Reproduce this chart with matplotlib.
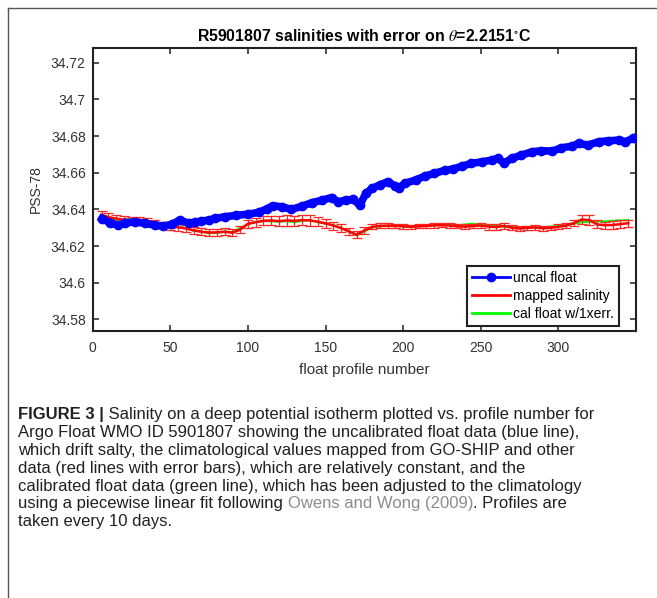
import numpy as np
import matplotlib
matplotlib.use('Agg')
import matplotlib.pyplot as plt
from matplotlib.lines import Line2D

plt.rcParams['font.family'] = ['Liberation Sans', 'DejaVu Sans']
plt.rcParams['mathtext.fontset'] = 'stix'

# uncalibrated float salinity (blue)
uncal_prof = [6, 11, 16, 21, 27, 34, 40, 45, 51, 56, 62, 66, 70, 75, 79, 85, 92, 100,
              107, 112, 116, 122, 128, 135, 141, 148, 154, 158, 163, 168, 172, 176,
              180, 185, 190, 195, 197, 201, 208, 214, 220, 227, 232, 238, 244, 251,
              257, 261, 265, 270, 276, 283, 289, 296, 302, 309, 313, 319, 326, 332,
              339, 343, 348]
uncal_sal = [34.6350, 34.6328, 34.6314, 34.6327, 34.6332, 34.6324, 34.6314, 34.6309,
             34.6318, 34.6342, 34.6324, 34.6330, 34.6336, 34.6342, 34.6351, 34.6360,
             34.6367, 34.6374, 34.6384, 34.6402, 34.6420, 34.6414, 34.6400, 34.6418,
             34.6436, 34.6451, 34.6465, 34.6441, 34.6451, 34.6455, 34.6423, 34.6487,
             34.6515, 34.6533, 34.6551, 34.6527, 34.6515, 34.6542, 34.6560, 34.6582,
             34.6596, 34.6614, 34.6620, 34.6636, 34.6651, 34.6660, 34.6669, 34.6678,
             34.6654, 34.6678, 34.6696, 34.6714, 34.6720, 34.6718, 34.6736, 34.6745,
             34.6760, 34.6751, 34.6769, 34.6774, 34.6778, 34.6769, 34.6787]

# mapped salinity (red) with error, and calibrated float (green)
prof = [6, 10, 15, 20, 25, 30, 35, 40, 45, 50, 55, 60, 65, 70, 75, 80, 85, 90, 95,
        100, 105, 110, 115, 120, 125, 130, 135, 140, 145, 150, 155, 160, 165, 170,
        175, 180, 185, 190, 195, 200, 205, 210, 215, 220, 225, 230, 235, 240, 245,
        250, 255, 260, 265, 270, 275, 280, 285, 290, 295, 300, 305, 310, 315, 320,
        325, 330, 335, 340, 345]
mapped_sal = [34.6370, 34.6358, 34.6350, 34.6344, 34.6342, 34.6342, 34.6338, 34.6328,
              34.6314, 34.6306, 34.6303, 34.6296, 34.6286, 34.6278, 34.6274, 34.6275,
              34.6278, 34.6273, 34.6290, 34.6322, 34.6330, 34.6338, 34.6340, 34.6336,
              34.6340, 34.6338, 34.6342, 34.6340, 34.6333, 34.6324, 34.6312, 34.6298,
              34.6280, 34.6262, 34.6285, 34.6305, 34.6310, 34.6312, 34.6310, 34.6308,
              34.6305, 34.6308, 34.6310, 34.6313, 34.6314, 34.6312, 34.6308, 34.6306,
              34.6310, 34.6312, 34.6306, 34.6304, 34.6310, 34.6300, 34.6296, 34.6300,
              34.6302, 34.6297, 34.6300, 34.6305, 34.6312, 34.6325, 34.6345, 34.6342,
              34.6318, 34.6314, 34.6315, 34.6320, 34.6325]
mapped_err = [0.0020, 0.0020, 0.0018, 0.0018, 0.0016, 0.0016, 0.0016, 0.0016, 0.0016,
              0.0016, 0.0018, 0.0018, 0.0018, 0.0018, 0.0018, 0.0018, 0.0020, 0.0020,
              0.0020, 0.0022, 0.0024, 0.0025, 0.0026, 0.0026, 0.0028, 0.0026, 0.0028,
              0.0028, 0.0026, 0.0024, 0.0022, 0.0020, 0.0020, 0.0020, 0.0018, 0.0014,
              0.0014, 0.0013, 0.0013, 0.0013, 0.0012, 0.0012, 0.0012, 0.0012, 0.0012,
              0.0012, 0.0012, 0.0012, 0.0013, 0.0014, 0.0016, 0.0018, 0.0016, 0.0013,
              0.0012, 0.0012, 0.0012, 0.0012, 0.0012, 0.0013, 0.0014, 0.0018, 0.0024,
              0.0026, 0.0022, 0.0020, 0.0020, 0.0020, 0.0020]
cal_sal = [34.6372, 34.6355, 34.6345, 34.6346, 34.6344, 34.6340, 34.6335, 34.6326,
           34.6316, 34.6308, 34.6306, 34.6298, 34.6284, 34.6280, 34.6270, 34.6272,
           34.6280, 34.6276, 34.6300, 34.6318, 34.6332, 34.6336, 34.6335, 34.6333,
           34.6336, 34.6330, 34.6338, 34.6342, 34.6330, 34.6322, 34.6315, 34.6300,
           34.6283, 34.6258, 34.6280, 34.6302, 34.6308, 34.6310, 34.6312, 34.6306,
           34.6304, 34.6310, 34.6312, 34.6314, 34.6316, 34.6315, 34.6312, 34.6318,
           34.6322, 34.6318, 34.6312, 34.6314, 34.6305, 34.6308, 34.6303, 34.6305,
           34.6300, 34.6302, 34.6306, 34.6310, 34.6318, 34.6322, 34.6330, 34.6332,
           34.6335, 34.6335, 34.6338, 34.6340, 34.6342]

xticks = [0, 50, 100, 150, 200, 250, 300]
yticks = [34.58, 34.6, 34.62, 34.64, 34.66, 34.68, 34.7, 34.72]
ytick_labels = ['34.58', '34.6', '34.62', '34.64', '34.66', '34.68', '34.7', '34.72']

TXT = '#231f20'
LINK = '#8c8c8c'
caption = [
    [("FIGURE 3 |", 'bold', TXT),
     (" Salinity on a deep potential isotherm plotted vs. profile number for", 'normal', TXT)],
    [("Argo Float WMO ID 5901807 showing the uncalibrated float data (blue line),", 'normal', TXT)],
    [("which drift salty, the climatological values mapped from GO-SHIP and other", 'normal', TXT)],
    [("data (red lines with error bars), which are relatively constant, and the", 'normal', TXT)],
    [("calibrated float data (green line), which has been adjusted to the climatology", 'normal', TXT)],
    [("using a piecewise linear fit following ", 'normal', TXT),
     ("Owens and Wong (2009)", 'normal', LINK),
     (". Profiles are", 'normal', TXT)],
    [("taken every 10 days.", 'normal', TXT)],
]

W, H = 657, 598
fig = plt.figure(figsize=(W / 100, H / 100), dpi=100)
ax = fig.add_axes([92.7 / W, 1 - 331 / H, 543.3 / W, 283.3 / H])

# green under red, blue on top
ax.plot(prof, cal_sal, color=(0, 1, 0), lw=1.5, zorder=2)
ax.errorbar(prof, mapped_sal, yerr=mapped_err, color=(1, 0, 0), lw=1.8,
            ecolor=(1, 0.15, 0.15), elinewidth=0.9, capsize=3.5, capthick=0.9,
            zorder=3)
ax.plot(uncal_prof, uncal_sal, color=(0, 0, 1), lw=5.5, zorder=4)
ax.plot(uncal_prof, uncal_sal, color=(0, 0, 1), lw=2, marker='o', ms=6, zorder=5)

ax.set_xlim(0, 350)
ax.set_ylim(34.5737, 34.7282)
ax.set_xticks(xticks)
ax.set_yticks(yticks)
ax.set_yticklabels(ytick_labels)
ax.tick_params(direction='in', length=4.5, width=1.1, top=True, right=True,
               labelsize=10, labelcolor='#333333', color='#222222')
ax.tick_params(axis='x', pad=7)
ax.tick_params(axis='y', pad=5)
for s in ax.spines.values():
    s.set_linewidth(1.5)
    s.set_color('#222222')

ax.set_xlabel('float profile number', fontsize=11, color='#333333', labelpad=6)
ax.set_ylabel('PSS-78', fontsize=10, color='#333333', labelpad=6)
ax.set_title(r'R5901807 salinities with error on $\theta$=2.2151$^{\circ}$C',
             fontsize=11.4, fontweight='bold', pad=5)

handles = [Line2D([], [], color=(0, 0, 1), lw=2, marker='o', ms=6),
           Line2D([], [], color=(1, 0, 0), lw=2),
           Line2D([], [], color=(0, 1, 0), lw=2)]
labels = ['uncal float', 'mapped salinity', 'cal float w/1xerr.']
leg = ax.legend(handles, labels, loc='lower right',
                bbox_to_anchor=(0.9687, 0.0176), fontsize=10, fancybox=False,
                framealpha=1, edgecolor='#222222', handlelength=2.75,
                handletextpad=0.2, labelspacing=0.3, borderpad=0.35,
                borderaxespad=0)
leg.get_frame().set_linewidth(1.5)

# page frame (top and left edges)
fig.add_artist(Line2D([8 / W, 8 / W], [0, 1 - 8 / H], color='#555555', lw=1))
fig.add_artist(Line2D([8 / W, 1], [1 - 8 / H, 1 - 8 / H], color='#555555', lw=1))

# caption, pieces chained one after another on each line
y0 = 419.3
for k, pieces in enumerate(caption):
    yb = 1 - (y0 + k * 17.8) / H
    last = None
    for txt, wt, col in pieces:
        if last is None:
            last = fig.text(18 / W, yb, txt, fontsize=12, fontweight=wt,
                            color=col, va='baseline', ha='left')
        else:
            last = ax.annotate(txt, xy=(1, 0), xycoords=last, fontsize=12,
                               fontweight=wt, color=col, va='bottom', ha='left',
                               annotation_clip=False)

fig.savefig('out.png', dpi=100)
